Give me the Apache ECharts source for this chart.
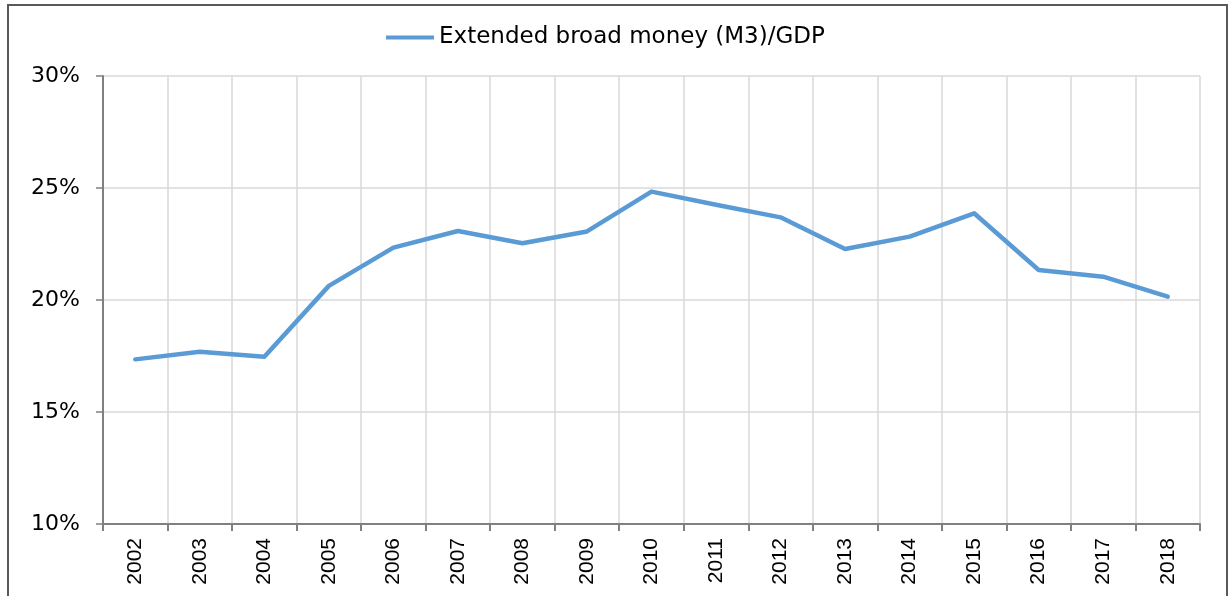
<!DOCTYPE html>
<html>
<head>
<meta charset="utf-8">
<script src="https://cdn.jsdelivr.net/npm/echarts@6/dist/echarts.min.js"></script>
<style>
  html, body { margin: 0; padding: 0; background: #fff; }
  #chart { width: 1230px; height: 596px; }
</style>
</head>
<body>
<div id="chart"></div>
<script>
// Extended broad money (M3) as share of GDP.
const years = ['2002', '2003', '2004', '2005', '2006', '2007', '2008', '2009', '2010',
  '2011', '2012', '2013', '2014', '2015', '2016', '2017', '2018'];
const m3ToGdp = [17.35, 17.69, 17.47, 20.63, 22.34, 23.08, 22.53, 23.06, 24.84,
  24.25, 23.69, 22.28, 22.83, 23.87, 21.34, 21.04, 20.15];
const seriesName = 'Extended broad money (M3)/GDP';

const chart = echarts.init(document.getElementById('chart'));
const font = 'Liberation Sans, Arial, sans-serif';
const wideFont = 'DejaVu Sans, Verdana, sans-serif';

chart.setOption({
  animation: false,
  backgroundColor: '#fff',
  textStyle: { fontFamily: font },
  graphic: [{
    type: 'rect',
    shape: { x: 8, y: 5, width: 1219, height: 600 },
    style: { fill: 'none', stroke: '#595959', lineWidth: 2 },
    silent: true
  }],
  legend: {
    top: 21,
    left: 381,
    itemWidth: 48,
    itemHeight: 4,
    itemGap: 8,
    textStyle: { fontSize: 23, color: '#000', fontFamily: wideFont },
    data: [{ name: seriesName, icon: 'path://M0,0 L48,0 L48,4 L0,4 Z' }]
  },
  grid: { left: 103, top: 76, width: 1097, height: 448, containLabel: false },
  xAxis: {
    type: 'category',
    data: years,
    boundaryGap: true,
    axisLine: { lineStyle: { color: '#808080', width: 2 } },
    axisTick: { show: true, length: 7, lineStyle: { color: '#808080', width: 2 } },
    axisLabel: { rotate: 90, fontSize: 21, color: '#000', margin: 14, fontFamily: font },
    splitLine: { show: true, lineStyle: { color: '#d9d9d9', width: 1.5 } }
  },
  yAxis: {
    type: 'value',
    min: 10,
    max: 30,
    interval: 5,
    axisLine: { show: true, lineStyle: { color: '#808080', width: 2 } },
    axisTick: { show: true, length: 7, lineStyle: { color: '#808080', width: 1.5 } },
    axisLabel: { fontSize: 22, color: '#000', margin: 23, fontFamily: wideFont,
      formatter: function (v) { return v + '%'; } },
    splitLine: { show: true, lineStyle: { color: '#d9d9d9', width: 1.5 } }
  },
  series: [{
    name: seriesName,
    type: 'line',
    data: m3ToGdp,
    symbol: 'none',
    lineStyle: { color: '#5b9bd5', width: 4.5, cap: 'round', join: 'round' },
    itemStyle: { color: '#5b9bd5' }
  }]
});
</script>
</body>
</html>
